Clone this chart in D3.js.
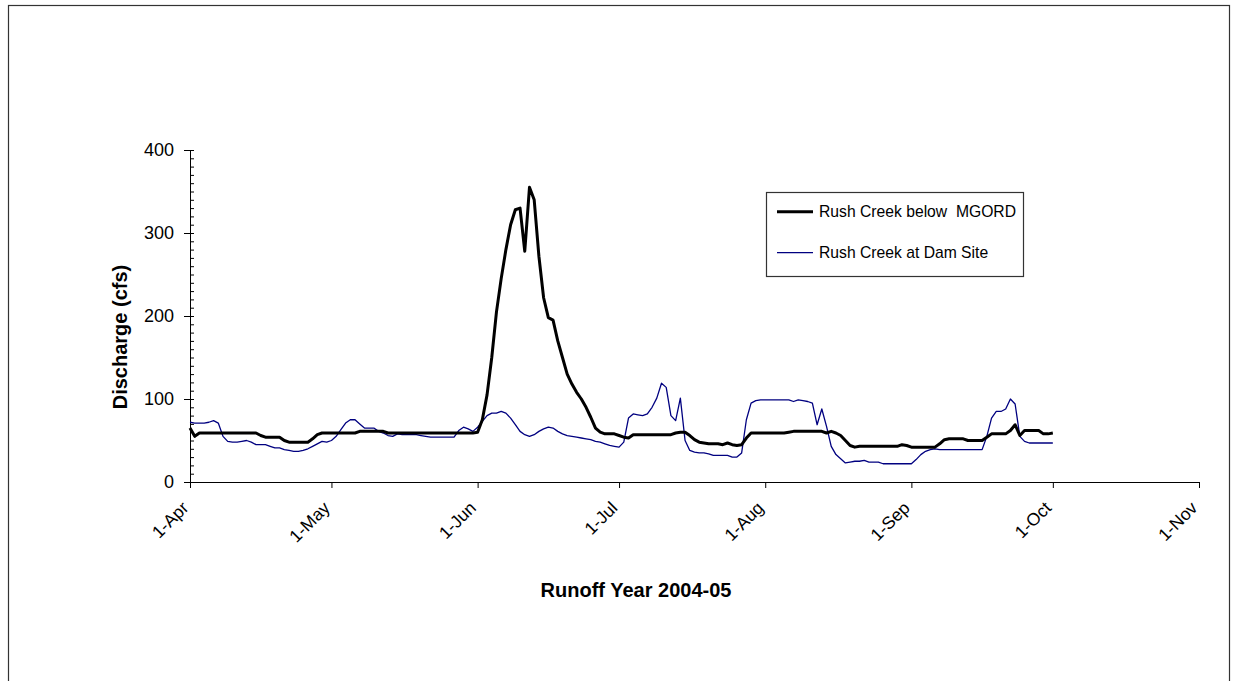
<!DOCTYPE html>
<html>
<head>
<meta charset="utf-8">
<script src="https://cdn.jsdelivr.net/npm/d3@7/dist/d3.min.js"></script>
<style>
  html, body { margin: 0; padding: 0; background: #fff; }
  svg { display: block; font-family: "Liberation Sans", Arial, sans-serif; }
</style>
</head>
<body>
<svg id="chart" width="1238" height="681"></svg>
<script>
// Daily discharge (cfs), Rush Creek, 1 Apr 2004 through 1 Oct 2004
const startDate = new Date(2004, 3, 1);

const belowMGORD = [
  65, 55, 59, 59, 59, 59, 59, 59, 59, 59, 59, 59, 59, 59, 59, 56, 54, 54, 54, 54,
  50, 48, 48, 48, 48, 48, 52, 57, 59, 59, 59, 59, 59, 59, 59, 59, 61, 61, 61, 61,
  61, 61, 59, 59, 59, 59, 59, 59, 59, 59, 59, 59, 59, 59, 59, 59, 59, 59, 59, 59,
  59, 60, 75, 105, 150, 205, 245, 280, 310, 328, 330, 278, 355, 340, 272, 222, 198, 195, 170, 150,
  130, 118, 108, 100, 90, 78, 65, 60, 58, 58, 58, 56, 54, 53, 57, 57, 57, 57, 57, 57,
  57, 57, 57, 59, 60, 60, 56, 51, 48, 47, 46, 46, 46, 45, 47, 45, 44, 45, 53, 59,
  59, 59, 59, 59, 59, 59, 59, 60, 61, 61, 61, 61, 61, 61, 61, 59, 61, 59, 56, 50,
  44, 42, 43, 43, 43, 43, 43, 43, 43, 43, 43, 45, 44, 42, 42, 42, 42, 42, 42, 46,
  51, 52, 52, 52, 52, 50, 50, 50, 50, 54, 58, 58, 58, 58, 62, 69, 56, 62, 62, 62,
  62, 58, 58, 59
];

const atDamSite = [
  72, 71, 71, 71, 72, 74, 71, 55, 49, 48, 48, 49, 50, 48, 45, 45, 45, 43, 41, 41,
  39, 38, 37, 37, 38, 40, 43, 46, 49, 48, 50, 55, 63, 71, 75, 75, 70, 65, 65, 65,
  61, 59, 56, 55, 58, 57, 57, 57, 57, 56, 55, 54, 54, 54, 54, 54, 54, 62, 66, 64,
  61, 66, 73, 80, 83, 83, 85, 83, 77, 69, 61, 57, 55, 57, 61, 64, 66, 65, 61, 58,
  56, 55, 54, 53, 52, 51, 49, 48, 46, 44, 43, 42, 48, 77, 82, 81, 80, 82, 90, 101,
  119, 114, 80, 74, 101, 50, 38, 36, 35, 35, 34, 32, 32, 32, 32, 30, 30, 35, 75, 95,
  98, 99, 99, 99, 99, 99, 99, 99, 97, 99, 98, 97, 95, 69, 88, 67, 43, 33, 28, 23,
  24, 25, 25, 26, 24, 24, 24, 22, 22, 22, 22, 22, 22, 22, 27, 33, 37, 39, 40, 39,
  39, 39, 39, 39, 39, 39, 39, 39, 39, 55, 77, 85, 85, 88, 100, 94, 55, 49, 47, 47,
  47, 47, 47, 47
];

const seriesNames = ["Rush Creek below  MGORD", "Rush Creek at Dam Site"];
const monthTicks = ["1-Apr", "1-May", "1-Jun", "1-Jul", "1-Aug", "1-Sep", "1-Oct", "1-Nov"];
const yMajorTicks = [0, 100, 200, 300, 400];
const xTitle = "Runoff Year 2004-05";
const yTitle = "Discharge (cfs)";

const svg = d3.select("#chart");

// outer chart frame
svg.append("rect")
  .attr("x", 8.5).attr("y", 5.5)
  .attr("width", 1221).attr("height", 700)
  .attr("fill", "none").attr("stroke", "#333").attr("stroke-width", 1.2);

const x = d3.scaleTime()
  .domain([startDate, new Date(2004, 10, 1)])
  .range([190, 1199]);
const y = d3.scaleLinear().domain([0, 400]).range([482, 150]);

const dayOf = i => d3.timeDay.offset(startDate, i);
const tickDates = monthTicks.map((_, i) => d3.timeMonth.offset(startDate, i));

// y axis: minor ticks every 10 on the inside, major ticks outside with labels
svg.append("g")
  .attr("transform", "translate(190,0)")
  .call(d3.axisLeft(y).tickValues(d3.range(0, 401, 10)).tickSize(-4).tickFormat(""))
  .call(g => g.select(".domain").remove())
  .call(g => g.selectAll("line").attr("stroke", "#000"));

const yAxis = svg.append("g")
  .attr("transform", "translate(190,0)")
  .call(d3.axisLeft(y).tickValues(yMajorTicks).tickSize(6).tickPadding(10).tickSizeOuter(0));
yAxis.select(".domain").attr("stroke", "#000");
yAxis.selectAll("line").attr("stroke", "#000");
yAxis.selectAll("text")
  .attr("font-size", 18).attr("fill", "#000")
  .attr("font-family", "'Liberation Sans', Arial, sans-serif");

// x axis with month ticks and slanted labels
const xAxis = svg.append("g")
  .attr("transform", "translate(0,482)")
  .call(d3.axisBottom(x).tickValues(tickDates).tickSize(6).tickSizeOuter(0)
    .tickFormat((d, i) => monthTicks[i]));
xAxis.select(".domain").attr("stroke", "#000");
xAxis.selectAll("line").attr("stroke", "#000");
xAxis.selectAll("text")
  .attr("font-size", 17.5).attr("fill", "#000")
  .attr("font-family", "'Liberation Sans', Arial, sans-serif")
  .attr("text-anchor", "end")
  .attr("dy", null).attr("y", null)
  .attr("transform", "translate(-1,27) rotate(-45)");

// series lines
const line = d3.line().x((d, i) => x(dayOf(i))).y(d => y(d));

svg.append("path")
  .datum(atDamSite)
  .attr("d", line)
  .attr("fill", "none").attr("stroke", "#000080").attr("stroke-width", 1.3)
  .attr("stroke-linejoin", "round");

svg.append("path")
  .datum(belowMGORD)
  .attr("d", line)
  .attr("fill", "none").attr("stroke", "#000").attr("stroke-width", 3)
  .attr("stroke-linejoin", "round");

// axis titles
svg.append("text")
  .attr("transform", "translate(127,337) rotate(-90)")
  .attr("text-anchor", "middle")
  .attr("font-size", 20).attr("font-weight", "bold").attr("fill", "#000")
  .text(yTitle);

svg.append("text")
  .attr("x", 636).attr("y", 597)
  .attr("text-anchor", "middle")
  .attr("font-size", 20).attr("font-weight", "bold").attr("fill", "#000")
  .text(xTitle);

// legend
const legend = svg.append("g");
legend.append("rect")
  .attr("x", 766.5).attr("y", 192.5).attr("width", 257).attr("height", 84)
  .attr("fill", "#fff").attr("stroke", "#333").attr("stroke-width", 1.2);

const legendStyles = [
  { color: "#000", width: 3 },
  { color: "#000080", width: 1.3 }
];
seriesNames.forEach((name, i) => {
  const ly = 211.7 + i * 41;
  legend.append("line")
    .attr("x1", 777).attr("x2", 813).attr("y1", ly).attr("y2", ly)
    .attr("stroke", legendStyles[i].color).attr("stroke-width", legendStyles[i].width);
  legend.append("text")
    .attr("x", 819).attr("y", ly + 5.4)
    .attr("font-size", 15.7).attr("fill", "#000")
    .attr("xml:space", "preserve")
    .style("white-space", "pre")
    .text(name);
});
</script>
</body>
</html>
